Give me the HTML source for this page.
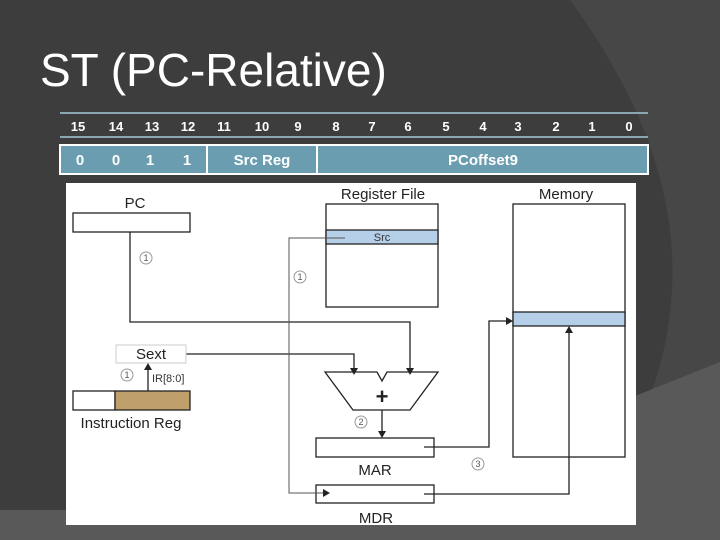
<!DOCTYPE html>
<html><head><style>
body{margin:0;width:720px;height:540px;overflow:hidden;background:#3d3d3d;font-family:"Liberation Sans",sans-serif}
</style></head><body>
<svg width="720" height="540" viewBox="0 0 720 540" xmlns="http://www.w3.org/2000/svg" style="position:absolute;left:0;top:0" font-family="Liberation Sans, sans-serif">
<rect width="720" height="540" fill="#3d3d3d"/>
<path d="M570,0 Q680,150 672,290 Q668,360 640,420 L720,420 L720,0 Z" fill="#474747"/>
<path d="M620,402 L720,362 L720,540 L0,540 L0,510 L620,510 Z" fill="#595959"/>
<text x="40" y="86" font-size="46" fill="#fff">ST (PC-Relative)</text>
<line x1="60" y1="113" x2="648" y2="113" stroke="#8aa6b0" stroke-width="2"/>
<line x1="60" y1="137" x2="648" y2="137" stroke="#8aa6b0" stroke-width="2"/>
<g font-size="13" font-weight="bold" fill="#fff" text-anchor="middle">
<text x="78" y="131">15</text><text x="116" y="131">14</text><text x="152" y="131">13</text><text x="188" y="131">12</text>
<text x="224" y="131">11</text><text x="262" y="131">10</text><text x="298" y="131">9</text><text x="336" y="131">8</text>
<text x="372" y="131">7</text><text x="408" y="131">6</text><text x="446" y="131">5</text><text x="483" y="131">4</text>
<text x="518" y="131">3</text><text x="556" y="131">2</text><text x="592" y="131">1</text><text x="629" y="131">0</text>
</g>
<rect x="60" y="145" width="588" height="29" fill="#6b9db0" stroke="#fff" stroke-width="2"/>
<line x1="207" y1="145" x2="207" y2="174" stroke="#fff" stroke-width="2"/>
<line x1="317" y1="145" x2="317" y2="174" stroke="#fff" stroke-width="2"/>
<g font-size="15" font-weight="bold" fill="#fff" text-anchor="middle">
<text x="80" y="165">0</text><text x="116" y="165">0</text><text x="150" y="165">1</text><text x="187" y="165">1</text>
<text x="262" y="165">Src Reg</text><text x="483" y="165">PCoffset9</text>
</g>
<rect x="66" y="183" width="570" height="342" fill="#fff"/>
<g stroke="#222" stroke-width="1.3" fill="none">
<rect x="73" y="213" width="117" height="19"/>
<rect x="326" y="204" width="112" height="103"/>
<rect x="326" y="230" width="112" height="14" fill="#b5cfe8"/>
<rect x="513" y="204" width="112" height="253"/>
<rect x="513" y="312" width="112" height="14" fill="#b5cfe8"/>
<rect x="73" y="391" width="42" height="19"/>
<rect x="115" y="391" width="75" height="19" fill="#bf9f6a"/>
<rect x="316" y="438" width="118" height="19"/>
<rect x="316" y="485" width="118" height="18"/>
<path d="M325,372 L377,372 L382,381 L387,372 L438,372 L410,410 L353,410 Z"/>
<polyline points="130,232 130,322 410,322 410,370"/>
<polyline points="186,354 354,354 354,370"/>
<line x1="382" y1="410" x2="382" y2="436"/>
<line x1="148" y1="391" x2="148" y2="366"/>
<polyline points="424,447 489,447 489,321 511,321"/>
<polyline points="424,494 569,494 569,328"/>
</g>
<rect x="116" y="345" width="70" height="18" fill="#fff" stroke="#ccc"/>
<polyline points="345,238 289,238 289,493 328,493" fill="none" stroke="#555" stroke-width="1"/>
<g fill="#222">
<path d="M410,375 l-4,-7 h8z"/><path d="M354,375 l-4,-7 h8z"/><path d="M382,438 l-4,-7 h8z"/>
<path d="M148,363 l-4,7 h8z"/><path d="M513,321 l-7,-4 v8z"/><path d="M569,326 l-4,7 h8z"/><path d="M330,493 l-7,-4 v8z"/>
</g>
<g font-size="15" fill="#222" text-anchor="middle">
<text x="135" y="208">PC</text><text x="383" y="199">Register File</text><text x="566" y="199">Memory</text>
<text x="131" y="428">Instruction Reg</text><text x="375" y="475">MAR</text><text x="376" y="523">MDR</text>
<text x="151" y="359">Sext</text>
</g>
<text x="382" y="241" font-size="11" fill="#333" text-anchor="middle">Src</text>
<text x="152" y="382" font-size="11" fill="#333">IR[8:0]</text>
<text x="382" y="404" font-size="22" font-weight="bold" fill="#222" text-anchor="middle">+</text>
<g font-size="9" fill="#555" text-anchor="middle">
<circle cx="146" cy="258" r="6" fill="none" stroke="#999"/><text x="146" y="261">1</text>
<circle cx="300" cy="277" r="6" fill="none" stroke="#999"/><text x="300" y="280">1</text>
<circle cx="127" cy="375" r="6" fill="none" stroke="#999"/><text x="127" y="378">1</text>
<circle cx="361" cy="422" r="6" fill="none" stroke="#999"/><text x="361" y="425">2</text>
<circle cx="478" cy="464" r="6" fill="none" stroke="#999"/><text x="478" y="467">3</text>
</g>
</svg>
</body></html>
